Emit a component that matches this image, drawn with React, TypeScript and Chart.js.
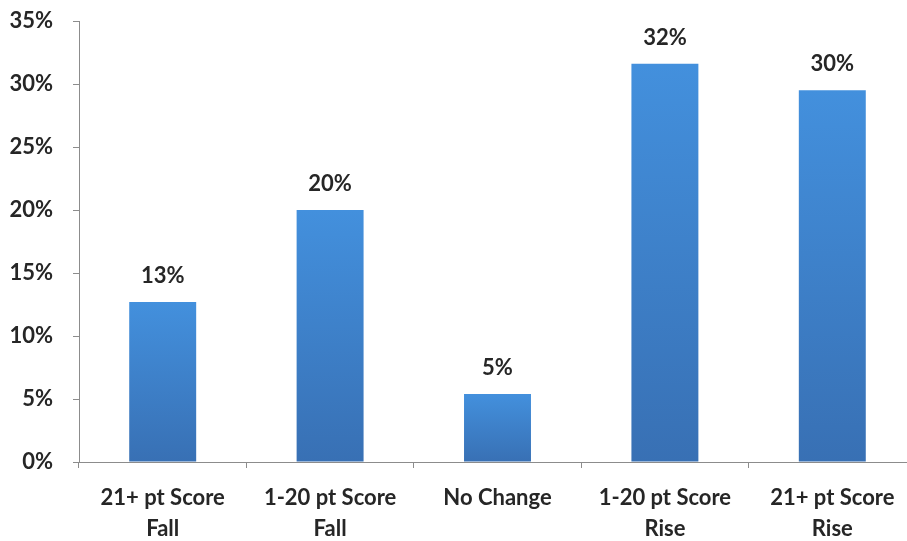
import React, { useEffect, useRef } from "react";
import { Chart, registerables } from "chart.js";

Chart.register(...registerables);

// Score-change buckets and the share of students in each
const categories: string[][] = [
  ["21+ pt Score", "Fall"],
  ["1-20 pt Score", "Fall"],
  ["No Change"],
  ["1-20 pt Score", "Rise"],
  ["21+ pt Score", "Rise"],
];
const shares: number[] = [12.7, 20.0, 5.4, 31.6, 29.5];

const yMin = 0;
const yMax = 35;
const yStep = 5;

const FONT = "Lato, 'Open Sans', sans-serif";
const TEXT = "#262626";
const AXIS = "#8c8c8c";

const valueLabels = {
  id: "valueLabels",
  afterDatasetsDraw(chart: Chart) {
    const { ctx } = chart;
    const meta = chart.getDatasetMeta(0);
    ctx.save();
    ctx.font = `bold 22px ${FONT}`;
    ctx.fillStyle = TEXT;
    ctx.textAlign = "center";
    ctx.textBaseline = "alphabetic";
    meta.data.forEach((bar: any, i: number) => {
      const v = shares[i];
      ctx.fillText(`${Math.round(v)}%`, bar.x, bar.y - 19);
    });
    ctx.restore();
  },
};

export default function App() {
  const canvasRef = useRef<HTMLCanvasElement | null>(null);

  useEffect(() => {
    if (!canvasRef.current) return;
    const chart = new Chart(canvasRef.current, {
      type: "bar",
      data: {
        labels: categories,
        datasets: [
          {
            data: shares,
            barPercentage: 0.4,
            categoryPercentage: 1,
            borderWidth: 0,
            backgroundColor: (ctx: any) => {
              const c = ctx.chart;
              if (!c.chartArea || ctx.type !== "data") return "#3f80cc";
              const ys = c.scales.y;
              const top = ys.getPixelForValue(ctx.raw as number);
              const bottom = ys.getPixelForValue(0);
              const g = c.ctx.createLinearGradient(0, top, 0, bottom);
              g.addColorStop(0, "#4390dd");
              g.addColorStop(1, "#3870b4");
              return g;
            },
          },
        ],
      },
      options: {
        animation: false,
        responsive: true,
        maintainAspectRatio: false,
        layout: { padding: { top: 21, right: 0, bottom: 0, left: 0 } },
        plugins: {
          legend: { display: false },
          tooltip: { enabled: false },
        },
        scales: {
          x: {
            grid: {
              display: true,
              drawOnChartArea: false,
              drawTicks: true,
              tickLength: 6,
              color: AXIS,
              offset: true,
            },
            border: { display: true, color: AXIS, width: 1 },
            ticks: {
              color: TEXT,
              padding: 14,
              maxRotation: 0,
              autoSkip: false,
              font: { family: FONT, size: 22, weight: "bold", lineHeight: 1.41 },
            },
            afterFit: (s: any) => {
              s.height = 79;
            },
          },
          y: {
            min: yMin,
            max: yMax,
            grid: {
              display: true,
              drawOnChartArea: false,
              drawTicks: true,
              tickLength: 6,
              color: AXIS,
            },
            border: { display: true, color: AXIS, width: 1 },
            ticks: {
              stepSize: yStep,
              color: TEXT,
              padding: 20,
              font: { family: FONT, size: 22, weight: "bold" },
              callback: (v: any) => `${v}%`,
            },
            afterFit: (s: any) => {
              s.width = 79;
              s.paddingTop = 0;
              s.paddingBottom = 0;
            },
          },
        },
      },
      plugins: [valueLabels],
    });
    return () => chart.destroy();
  }, []);

  return (
    <div
      style={{
        position: "fixed",
        left: 0,
        top: 0,
        width: 907,
        height: 541,
        overflow: "hidden",
        background: "#ffffff",
      }}
    >
      <div style={{ position: "relative", width: 916, height: 541 }}>
        <canvas ref={canvasRef} />
      </div>
    </div>
  );
}
